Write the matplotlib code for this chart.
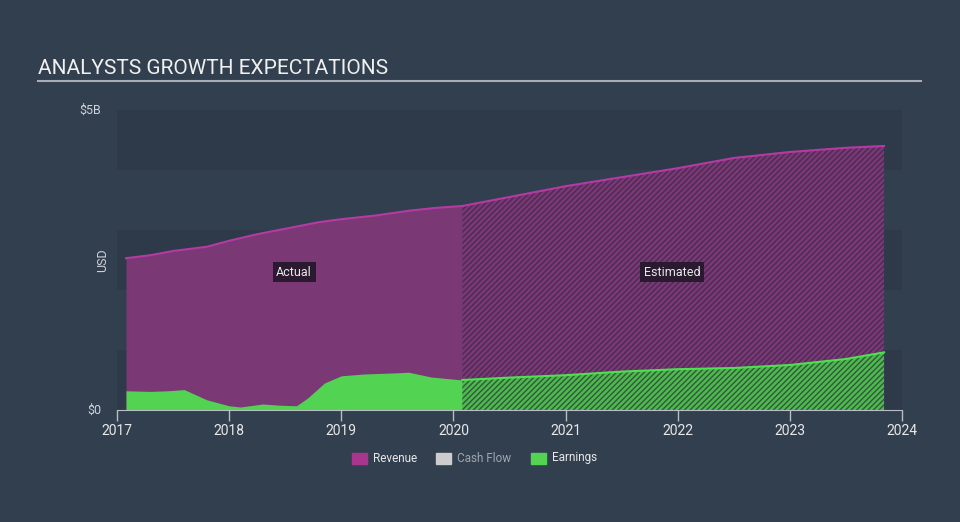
import matplotlib.pyplot as plt
import numpy as np

plt.rcParams['font.family'] = ['Roboto', 'DejaVu Sans']
plt.rcParams['hatch.linewidth'] = 1.0

# actual period
act_years = [2017.08, 2017.3, 2017.5, 2017.8, 2018.0, 2018.25, 2018.5, 2018.8,
             2019.0, 2019.3, 2019.6, 2019.85, 2020.08]
act_revenue = [2.53, 2.58, 2.65, 2.72, 2.82, 2.93, 3.02, 3.13,
               3.18, 3.24, 3.32, 3.37, 3.40]
act_years_e = [2017.08, 2017.3, 2017.45, 2017.6, 2017.8, 2018.0, 2018.1, 2018.3,
               2018.45, 2018.6, 2018.7, 2018.85, 2019.0, 2019.2, 2019.5, 2019.6,
               2019.8, 2020.08]
act_earnings = [0.32, 0.31, 0.32, 0.34, 0.17, 0.07, 0.05, 0.10,
                0.08, 0.07, 0.20, 0.45, 0.57, 0.60, 0.62, 0.63,
                0.55, 0.50]

# estimated period
est_years = [2020.08, 2020.5, 2021.0, 2021.5, 2022.0, 2022.5, 2023.0, 2023.5, 2023.84]
est_revenue = [3.40, 3.55, 3.73, 3.88, 4.03, 4.20, 4.30, 4.37, 4.40]
est_earnings = [0.50, 0.54, 0.58, 0.64, 0.68, 0.70, 0.75, 0.85, 0.96]

year_ticks = [2017, 2018, 2019, 2020, 2021, 2022, 2023, 2024]

bg = '#323f4f'
band = '#2e3a49'
purple = '#7a3874'
purple_line = '#b53aa4'
green = '#52d452'
green_line = '#4fe04f'

fig = plt.figure(figsize=(9.6, 5.22), dpi=100)
fig.patch.set_facecolor(bg)
ax = fig.add_axes([117 / 960, 112 / 522, 785 / 960, 300 / 522])
ax.set_facecolor(bg)

for lo in [0, 2, 4]:
    ax.axhspan(lo * 1.0 + 0.0, lo * 1.0 + 1.0, color=band, lw=0, zorder=0)

# actual fills
ax.fill_between(act_years, 0, act_revenue, color=purple, lw=0, zorder=1)
ax.fill_between(act_years_e, 0, act_earnings, color=green, lw=0, zorder=2)
ax.plot(act_years, act_revenue, color=purple_line, lw=1.5, zorder=3)

# estimated fills with hatching
ax.fill_between(est_years, 0, est_revenue, facecolor=purple, edgecolor='#4b2b55',
                hatch='//////', lw=0, zorder=1)
ax.fill_between(est_years, 0, est_earnings, facecolor='#4fb84f', edgecolor='#2f5a3a',
                hatch='//////', lw=0, zorder=2)
ax.plot(est_years, est_revenue, color=purple_line, lw=1.5, zorder=3)
ax.plot(est_years, est_earnings, color=green_line, lw=1.5, zorder=3)

ax.set_xlim(2017, 2024)
ax.set_ylim(0, 5)
ax.set_xticks(year_ticks)
ax.set_xticklabels([str(y) for y in year_ticks], color='#e8e8e8', fontsize=10)
ax.set_yticks([])
for s in ['top', 'right', 'left']:
    ax.spines[s].set_visible(False)
ax.spines['bottom'].set_color('#b8bec6')
ax.tick_params(axis='x', colors='#b8bec6', length=8, width=1, pad=2, labelcolor='#e8e8e8')

ax.text(-0.02, 1.0, '$5B', transform=ax.transAxes, ha='right', va='center',
        color='#d0d4d8', fontsize=9)
ax.text(-0.02, 0.0, '$0', transform=ax.transAxes, ha='right', va='center',
        color='#d0d4d8', fontsize=9)
ax.text(-0.018, 0.5, 'USD', transform=ax.transAxes, ha='center', va='center',
        rotation=90, color='#d0d4d8', fontsize=9)

box = dict(boxstyle='square,pad=0.3', fc='#2a1a30', ec='none')
ax.text(2018.58, 2.3, 'Actual', ha='center', va='center', color='#e8e8e8',
        fontsize=9, bbox=box, zorder=5)
ax.text(2021.95, 2.3, 'Estimated', ha='center', va='center', color='#e8e8e8',
        fontsize=9, bbox=box, zorder=5)

# title
fig.text(38 / 960, 1 - 68 / 522, 'ANALYSTS GROWTH EXPECTATIONS', color='#f0f0f0',
         fontsize=15, ha='left', va='center')
fig.add_artist(plt.Line2D([38 / 960, 921 / 960], [1 - 81 / 522, 1 - 81 / 522],
                          color='#a8aeb6', lw=1.5))

# legend
leg_items = [('Revenue', '#a8368f', '#e8e8e8'), ('Cash Flow', '#cccccc', '#a0a6ae'),
             ('Earnings', '#52d452', '#e8e8e8')]
leg_x = [352, 436, 531]
for (name, c, tc), x in zip(leg_items, leg_x):
    fig.patches.append(plt.Rectangle((x / 960, 1 - 464 / 522), 15 / 960, 11 / 522,
                                     transform=fig.transFigure, color=c))
    fig.text((x + 21) / 960, 1 - 458 / 522, name, color=tc, fontsize=8.5,
             ha='left', va='center')

fig.savefig('out.png', dpi=100, facecolor=bg)
